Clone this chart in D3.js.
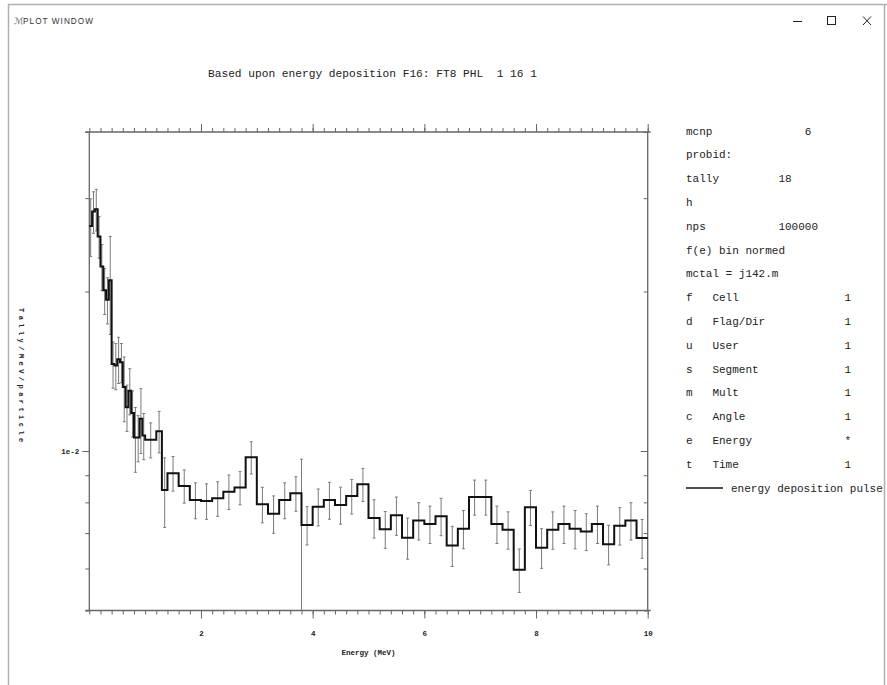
<!DOCTYPE html>
<html>
<head>
<meta charset="utf-8">
<script src="https://cdn.jsdelivr.net/npm/d3@7"></script>
<style>
  html, body { margin: 0; padding: 0; background: #fff; }
  svg { display: block; }
  text { font-family: "Liberation Mono", "DejaVu Sans Mono", monospace; }
</style>
</head>
<body>
<svg id="chart" width="887" height="685"></svg>
<script>
// ---- tally data: pulse-height bins (MeV) ----
const binEdges = [0, 0.05, 0.1, 0.15, 0.2, 0.25, 0.3, 0.35, 0.4, 0.45, 0.5, 0.55, 0.6, 0.65,
  0.7, 0.75, 0.8, 0.85, 0.9, 0.95, 1.0, 1.2, 1.3, 1.4, 1.6, 1.8, 2.0, 2.2, 2.4, 2.6, 2.8,
  3.0, 3.2, 3.4, 3.6, 3.8, 4.0, 4.2, 4.4, 4.6, 4.8, 5.0, 5.2, 5.4, 5.6, 5.8, 6.0, 6.2, 6.4,
  6.6, 6.8, 7.0, 7.2, 7.4, 7.6, 7.8, 8.0, 8.2, 8.4, 8.6, 8.8, 9.0, 9.2, 9.4, 9.6, 9.8, 10.0];

// tally per bin, in units of 1e-3 (Tally/MeV/particle)
const tallyValues = [26.6, 28.3, 28.6, 25.4, 22.3, 20.1, 19.3, 21.0, 14.6, 14.5, 14.9, 14.7,
  13.2, 12.1, 13.0, 11.8, 10.6, 10.6, 11.5, 10.7, 10.5, 10.9, 8.44,
  9.08, 8.59, 8.08, 8.05, 8.14, 8.38, 8.53, 9.73, 7.93, 7.61, 8.08, 8.32, 7.25, 7.85, 8.08,
  7.91, 8.22, 8.65, 7.47, 7.12, 7.56, 6.86, 7.39, 7.28, 7.53, 6.63, 7.13, 8.19, 8.19, 7.28,
  7.10, 5.97, 7.83, 6.57, 7.10, 7.28, 7.13, 7.05, 7.28, 6.67, 7.23, 7.39, 6.85];

// relative error per bin
const relErrors = [0.125, 0.09, 0.09, 0.09, 0.10, 0.10, 0.10, 0.21, 0.10, 0.10, 0.10, 0.085,
  0.14, 0.10, 0.10, 0.10, 0.14, 0.10, 0.14, 0.10, 0.076, 0.09, 0.15,
  0.075, 0.072, 0.078, 0.077, 0.075, 0.075, 0.072, 0.070, 0.077, 0.081, 0.078, 0.075, 0.083,
  0.080, 0.080, 0.080, 0.075, 0.072, 0.083, 0.080, 0.083, 0.089, 0.081, 0.081, 0.081, 0.087,
  0.083, 0.076, 0.076, 0.081, 0.081, 0.094, 0.076, 0.086, 0.081, 0.081, 0.083, 0.080, 0.081,
  0.086, 0.081, 0.081, 0.084];

// narrow bin whose error reaches zero (units of 1e-3)
const spikeEnergies = [3.8];
const spikeUpper = [9.65];

// ---- axis ticks and labels ----
const xMajorTicks = [2, 4, 6, 8, 10];
const xTickLabels = ["2", "4", "6", "8", "10"];
const yMinorTicks = [0.005, 0.006, 0.007, 0.008, 0.009, 0.02, 0.03, 0.04];
const yMajorTicks = [0.01];
const yTickLabels = ["1e-2"];

const titleText = "Based upon energy deposition F16: FT8 PHL  1 16 1";
const xAxisTitle = "Energy (MeV)";
const yAxisTitle = "Tally/MeV/particle";

// ---- side panel text ----
const headKeys = ["mcnp", "probid:", "tally", "h", "nps", "f(e) bin normed", "mctal = j142.m"];
const headValues = ["6", "", "18", "", "100000", "", ""];
const dimKeys = ["f", "d", "u", "s", "m", "c", "e", "t"];
const dimNames = ["Cell", "Flag/Dir", "User", "Segment", "Mult", "Angle", "Energy", "Time"];
const dimValues = ["1", "1", "1", "1", "1", "1", "*", "1"];
const seriesName = "energy deposition pulse";

// ---- layout ----
const svg = d3.select("#chart");
const plot = { left: 89.3, right: 647.7, top: 132, bottom: 610.5 };
const axisColor = "#666";

const x = d3.scaleLinear().domain([0, 10]).range([plot.left, plot.right]);
const y = d3.scaleLog().domain([0.005, 0.04]).range([plot.bottom, plot.top]);
const v = d => d * 1e-3;
const yc = val => y(Math.max(val, 0.005));

// window frame
svg.append("rect").attr("x", 0).attr("y", 0).attr("width", 887).attr("height", 685).attr("fill", "#fff");
svg.append("path")
  .attr("d", "M8.5,685 V4.5 H887 M884.5,4.5 V685")
  .attr("fill", "none").attr("stroke", "#b0b0b0").attr("stroke-width", 1.5);

// title bar
const bar = svg.append("g");
bar.append("text").attr("x", 14).attr("y", 24).attr("font-size", 9).attr("fill", "#666")
  .style("font-family", "DejaVu Sans").text("ℳ");
bar.append("text").attr("x", 23).attr("y", 24).attr("font-size", 8.2).attr("fill", "#333")
  .style("font-family", "Liberation Sans").attr("textLength", 70).text("PLOT WINDOW");
bar.append("path").attr("d", "M793,21.5 H802").attr("stroke", "#222").attr("stroke-width", 1);
bar.append("rect").attr("x", 827.5).attr("y", 16.5).attr("width", 8).attr("height", 8)
  .attr("fill", "none").attr("stroke", "#222").attr("stroke-width", 1);
bar.append("path").attr("d", "M863,16.5 L871,25 M871,16.5 L863,25").attr("stroke", "#222").attr("stroke-width", 1);

// chart title
svg.append("text").attr("x", 208).attr("y", 77).attr("font-size", 11.2).attr("fill", "#222")
  .attr("xml:space", "preserve").style("white-space", "pre").text(titleText);

// axes: ticks via d3 axes
function styleAxis(g) {
  g.select(".domain").remove();
  g.selectAll("line").attr("stroke", axisColor).attr("stroke-width", 1);
  g.selectAll("text").attr("fill", "#222").style("font-family", "Liberation Mono")
    .attr("font-size", 7.5).attr("font-weight", "bold");
}
const xMinor = d3.range(0, 10.001, 0.2).map(d => +d.toFixed(1));

svg.append("g").attr("transform", `translate(0,${plot.bottom})`)
  .call(d3.axisBottom(x).tickValues(xMinor).tickSize(4).tickFormat("")).call(styleAxis);
svg.append("g").attr("transform", `translate(0,${plot.bottom})`)
  .call(d3.axisBottom(x).tickValues(xMajorTicks).tickSize(8).tickPadding(12)
    .tickFormat((d, i) => xTickLabels[i])).call(styleAxis);
svg.append("g").attr("transform", `translate(0,${plot.top})`)
  .call(d3.axisTop(x).tickValues(xMinor).tickSize(4).tickFormat("")).call(styleAxis);
svg.append("g").attr("transform", `translate(0,${plot.top})`)
  .call(d3.axisTop(x).tickValues(xMajorTicks).tickSize(8).tickFormat("")).call(styleAxis);

svg.append("g").attr("transform", `translate(${plot.left},0)`)
  .call(d3.axisLeft(y).tickValues(yMinorTicks).tickSize(4).tickFormat("")).call(styleAxis);
svg.append("g").attr("transform", `translate(${plot.left},0)`)
  .call(d3.axisLeft(y).tickValues(yMajorTicks).tickSize(7).tickPadding(3)
    .tickFormat((d, i) => yTickLabels[i])).call(styleAxis);
svg.append("g").attr("transform", `translate(${plot.right},0)`)
  .call(d3.axisRight(y).tickValues(yMinorTicks).tickSize(-4).tickFormat("")).call(styleAxis);
svg.append("g").attr("transform", `translate(${plot.right},0)`)
  .call(d3.axisRight(y).tickValues(yMajorTicks).tickSize(-7).tickFormat("")).call(styleAxis);

// plot frame
svg.append("path")
  .attr("d", `M${plot.left - 4},${plot.top} H${plot.right + 3} M${plot.left - 4},${plot.bottom} H${plot.right + 3}
              M${plot.left},${plot.top} V${plot.bottom} M${plot.right},${plot.top} V${plot.bottom}`)
  .attr("fill", "none").attr("stroke", axisColor).attr("stroke-width", 1.3);

// axis titles
svg.append("text").attr("x", (plot.left + plot.right) / 2).attr("y", 655)
  .attr("text-anchor", "middle").attr("font-size", 7.5).attr("font-weight", "bold")
  .attr("fill", "#222").text(xAxisTitle);
svg.append("text").attr("transform", "translate(19,308) rotate(90)")
  .attr("font-size", 7).attr("font-weight", "bold").attr("letter-spacing", 3.45)
  .attr("fill", "#222").text(yAxisTitle);

// error bars
const bins = tallyValues.map((t, i) => ({
  lo: binEdges[i], hi: binEdges[i + 1], val: v(t), rel: relErrors[i]
}));
const eb = svg.append("g").attr("stroke", "#7a7a7a").attr("stroke-width", 1).attr("fill", "none");
bins.forEach(b => {
  const cx = x((b.lo + b.hi) / 2);
  const y1 = yc(b.val * (1 + b.rel)), y2 = yc(b.val * (1 - b.rel));
  eb.append("path").attr("d", `M${cx},${y1} V${y2} M${cx - 1.5},${y1} H${cx + 1.5} M${cx - 1.5},${y2} H${cx + 1.5}`);
});
spikeEnergies.forEach((e, i) => {
  const cx = x(e), y1 = yc(v(spikeUpper[i]));
  eb.append("path").attr("d", `M${cx},${y1} V${y(0.005)} M${cx - 1.5},${y1} H${cx + 1.5}`);
});

// histogram (step) line
const stepPts = bins.map(b => [b.lo, b.val]).concat([[binEdges[binEdges.length - 1], bins[bins.length - 1].val]]);
const stepLine = d3.line().x(d => x(d[0])).y(d => y(d[1])).curve(d3.curveStepAfter);
svg.append("path").datum(stepPts).attr("d", stepLine)
  .attr("fill", "none").attr("stroke", "#111").attr("stroke-width", 2);

// side panel
const panel = svg.append("g").attr("font-size", 11).attr("fill", "#222");
const px0 = 686, rowY0 = 134.5, rowH = 23.8, ch = 6.6;
const headValueCols = [18, 0, 14, 0, 14, 0, 0];
headKeys.forEach((k, i) => {
  panel.append("text").attr("x", px0).attr("y", rowY0 + i * rowH).text(k);
  if (headValues[i]) panel.append("text").attr("x", px0 + headValueCols[i] * ch)
    .attr("y", rowY0 + i * rowH).text(headValues[i]);
});
dimKeys.forEach((k, i) => {
  const yy = rowY0 + (headKeys.length + i) * rowH;
  panel.append("text").attr("x", px0).attr("y", yy).text(k);
  panel.append("text").attr("x", px0 + 4 * ch).attr("y", yy).text(dimNames[i]);
  panel.append("text").attr("x", px0 + 24 * ch).attr("y", yy).text(dimValues[i]);
});
const legY = rowY0 + (headKeys.length + dimKeys.length) * rowH;
svg.append("clipPath").attr("id", "winclip").append("rect")
  .attr("x", 0).attr("y", 0).attr("width", 884).attr("height", 685);
const leg = svg.append("g").attr("clip-path", "url(#winclip)");
leg.append("path").attr("d", `M${px0},${legY - 3.5} H${px0 + 37}`).attr("stroke", "#111").attr("stroke-width", 1.5);
leg.append("text").attr("x", 731).attr("y", legY).attr("font-size", 11).attr("fill", "#222").text(seriesName);
</script>
</body>
</html>
